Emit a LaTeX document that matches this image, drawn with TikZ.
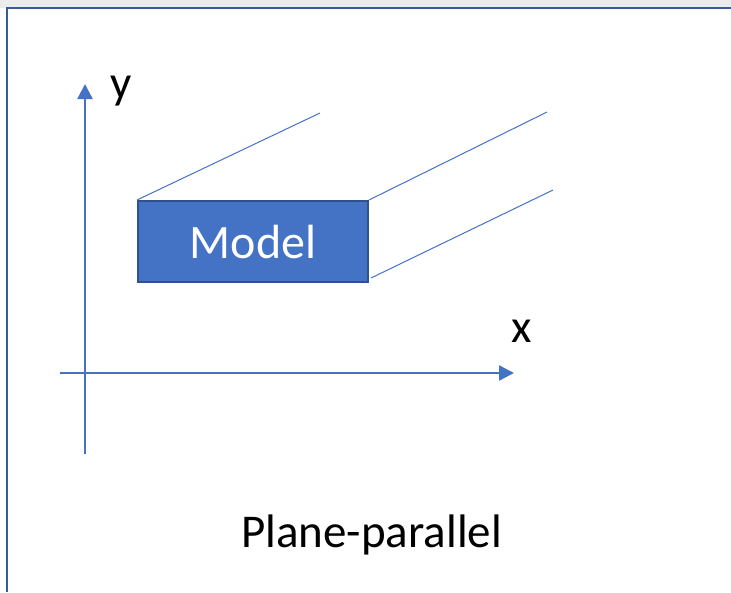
\documentclass[tikz,border=0pt]{standalone}
\usepackage{fontspec}
\setmainfont{Carlito}
\usetikzlibrary{arrows.meta}
\definecolor{axisblue}{HTML}{4472C4}
\definecolor{edgeblue}{HTML}{2F528F}
\definecolor{framecol}{HTML}{3A5A98}
\begin{document}
\begin{tikzpicture}[x=1pt,y=-1pt,
  axis/.style={draw=axisblue,line width=2.4pt,-{Triangle[length=15pt,width=15pt]}},
  depthline/.style={draw=axisblue,line width=1pt},
  lbl/.style={font=\fontsize{47}{56}\selectfont,inner sep=0pt,anchor=base west},
  modelbox/.style={draw=edgeblue,fill=axisblue,line width=2pt,minimum width=230pt,minimum height=81pt,inner sep=0pt,text=white,font=\fontsize{48}{57}\selectfont}]
\useasboundingbox (0,0) rectangle (731,592);
\fill[gray!15] (0,0) rectangle (731,8);
\draw[framecol,line width=2.4pt] (7,592) -- (7,8) -- (731,8);
% axes
\coordinate (yb) at (85,454);
\coordinate (yt) at (85,84);
\coordinate (xl) at (60,373);
\coordinate (xr) at (514,373);
\draw[axis] (yb) -- (yt);
\draw[axis] (xl) -- (xr);
\node[lbl] (ylab) at (110,98) {y};
\node[lbl] (xlab) at (511,342) {x};
% model
\node[modelbox] (model) at (253,241.5) {Model};
\coordinate (e1) at (320,113);
\coordinate (e2) at (547,112);
\coordinate (s3) at (371,278);
\coordinate (e3) at (553,190);
\draw[depthline] (model.north west) -- (e1);
\draw[depthline] (model.north east) -- (e2);
\draw[depthline] (s3) -- (e3);
\node[lbl] (title) at (241,547) {Plane-parallel};
\end{tikzpicture}
\end{document}
